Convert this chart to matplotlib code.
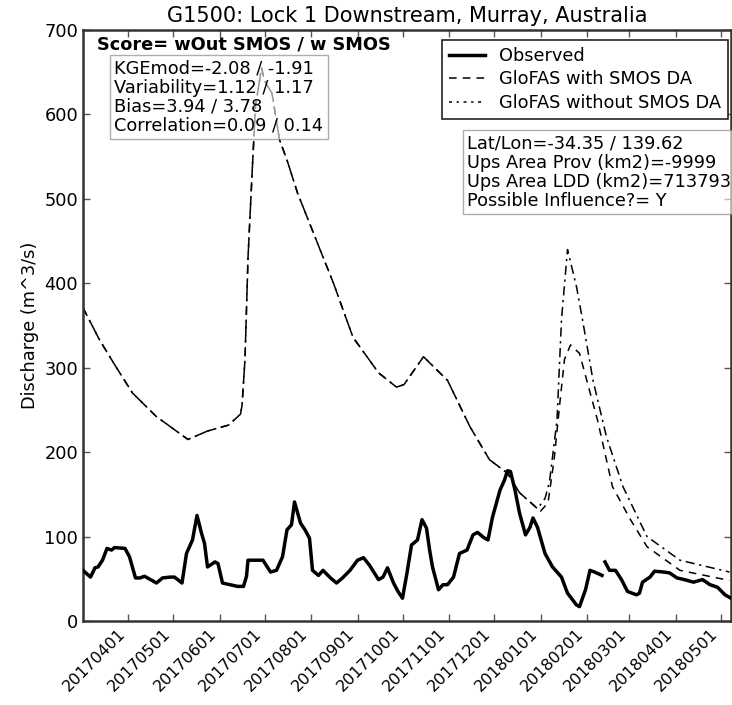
import matplotlib
matplotlib.use("Agg")
import matplotlib.pyplot as plt
import numpy as np
import pandas as pd
from matplotlib.lines import Line2D

plt.rcParams['font.family'] = ['DejaVu Sans']

# ---------------- data ----------------
obs_dates = [
    "20170302", "20170307", "20170310", "20170312", "20170315", "20170318", "20170321", "20170323",
    "20170330", "20170402", "20170406", "20170409", "20170412", "20170416", "20170420", "20170424",
    "20170429", "20170502", "20170507", "20170510", "20170514", "20170517", "20170520", "20170522",
    "20170524", "20170529", "20170531", "20170603", "20170608", "20170613", "20170617", "20170619",
    "20170620", "20170621", "20170628", "20170630", "20170705", "20170709", "20170713", "20170716",
    "20170719", "20170721", "20170725", "20170728", "20170731", "20170802", "20170806", "20170809",
    "20170814", "20170818", "20170822", "20170827", "20170901", "20170905", "20170909", "20170915",
    "20170918", "20170921", "20170925", "20170928", "20171001", "20171004", "20171007", "20171011",
    "20171014", "20171017", "20171019", "20171021", "20171025", "20171028", "20171031", "20171104",
    "20171108", "20171113", "20171117", "20171120", "20171124", "20171127", "20171130", "20171205",
    "20171208", "20171210", "20171212", "20171215", "20171218", "20171222", "20171225", "20171227",
    "20171230", "20180104", "20180109", "20180115", "20180119", "20180125", "20180127", "20180131",
    "20180203", "20180206", "20180211", "20180212", "20180213", "20180216", "20180220", "20180224",
    "20180228", "20180306", "20180308", "20180310", "20180315", "20180318", "20180324", "20180328",
    "20180402", "20180407", "20180413", "20180419", "20180424", "20180429", "20180504", "20180508",
]
obs_values = [
    60, 52, 63, 64, 72, 86, 84, 87,
    86, 76, 51, 51, 53, 49, 45, 51,
    52, 52, 45, 80, 96, 125, 104, 92,
    64, 70, 68, 45, 43, 41, 41, 53,
    72, 72, 72, 72, 58, 60, 76, 108,
    114, 141, 116, 108, 98, 60, 54, 60,
    51, 45, 51, 60, 72, 75, 66, 49,
    52, 63, 45, 35, 27, 57, 90, 96,
    120, 110, 85, 64, 37, 43, 43, 52,
    80, 84, 102, 105, 99, 96, 123, 155,
    167, 178, 177, 155, 128, 102, 111, 122,
    111, 80, 64, 52, 33, 19, 17, 37,
    60, 58, 54, np.nan, 70, 60, 60, 49,
    35, 31, 33, 46, 52, 59, 58, 57,
    51, 49, 46, 49, 43, 40, 31, 27,
]

shared_dates = [
    "20170302", "20170313", "20170324", "20170404", "20170420", "20170511", "20170524", "20170607",
    "20170615", "20170616", "20170618", "20170620", "20170623", "20170625", "20170629", "20170701",
    "20170706", "20170711", "20170716", "20170723", "20170807", "20170816", "20170829", "20170915",
    "20170927", "20171002", "20171015", "20171031", "20171115", "20171128", "20171210", "20171218",
    "20171225",
]
shared_values = [
    371, 333, 301, 270, 242, 215, 225, 232,
    245, 255, 310, 430, 540, 610, 655, 640,
    625, 570, 546, 507, 440, 400, 336, 294,
    277, 280, 313, 285, 230, 191, 175, 152,
    141,
]

with_dates = ["20180101", "20180106", "20180110", "20180114", "20180117", "20180121", "20180124",
              "20180127", "20180208", "20180218", "20180302", "20180313", "20180404", "20180507"]
with_values = [130, 140, 190, 260, 310, 327, 322, 317, 238, 159, 120, 88, 60, 48]

without_dates = ["20171230", "20180104", "20180107", "20180112", "20180115", "20180119", "20180125",
                 "20180129", "20180205", "20180214", "20180225", "20180313", "20180404", "20180507"]
without_values = [133, 145, 165, 238, 357, 440, 396, 357, 285, 218, 159, 100, 72, 58]

tick_labels = ["20170401", "20170501", "20170601", "20170701", "20170801", "20170901", "20171001",
               "20171101", "20171201", "20180101", "20180201", "20180301", "20180401", "20180501"]

score_title = "Score= wOut SMOS / w SMOS"
score_lines = ["KGEmod=-2.08 / -1.91", "Variability=1.12 / 1.17", "Bias=3.94 / 3.78",
               "Correlation=0.09 / 0.14"]
info_lines = ["Lat/Lon=-34.35 / 139.62", "Ups Area Prov (km2)=-9999",
              "Ups Area LDD (km2)=713793", "Possible Influence?= Y"]

# ---------------- plot ----------------
def to_dt(lst):
    return pd.to_datetime(lst, format="%Y%m%d")

FS = 12.8
fig = plt.figure(figsize=(7.32, 7.05), dpi=100)
ax = fig.add_axes([83 / 732, 1 - 621 / 705, (731 - 83) / 732, (621 - 30) / 705])

wx = to_dt(shared_dates + with_dates)
wy = shared_values + with_values
nx = to_dt(shared_dates + without_dates)
ny = shared_values + without_values

ls_without = (0, (6, 3, 1.5, 3))
ls_with = (0, (5, 4))
ax.plot(nx, ny, color='black', lw=1.1, ls=ls_without)
ax.plot(wx, wy, color='black', lw=1.1, ls=ls_with)
ax.plot(to_dt(obs_dates), obs_values, color='black', lw=2.5, zorder=5)

ax.set_xlim(pd.Timestamp("2017-03-02"), pd.Timestamp("2018-05-08"))
ax.set_ylim(0, 700)
ax.set_yticks(range(0, 701, 100))
ax.set_xticks(to_dt(tick_labels))
ax.set_xticklabels(tick_labels, rotation=45, ha='right', fontsize=11.5)
ax.tick_params(axis='y', labelsize=FS)
ax.tick_params(direction='in', top=True, right=True, length=5, width=1, color='#555555')
for s in ax.spines.values():
    s.set_linewidth(1.8)
    s.set_color('#333333')

ax.set_ylabel("Discharge (m^3/s)", fontsize=FS)
ax.set_title("G1500: Lock 1 Downstream, Murray, Australia", fontsize=15, pad=6)

handles = [Line2D([], [], color='black', lw=2.5),
           Line2D([], [], color='black', lw=1.1, ls=ls_with),
           Line2D([], [], color='black', lw=1.1, ls=(0, (2, 3, 1.5, 3)))]
leg = ax.legend(handles, ["Observed", "GloFAS with SMOS DA", "GloFAS without SMOS DA"],
                loc='upper right', bbox_to_anchor=(1 - 3 / 648, 1 - 10 / 591), borderaxespad=0,
                fontsize=FS, fancybox=False, framealpha=1, edgecolor='#222222',
                borderpad=0.4, handlelength=2.0, labelspacing=0.3)
leg.get_frame().set_linewidth(1.2)

ax.text(0.0216, 0.990, score_title, transform=ax.transAxes, fontsize=FS, fontweight='bold',
        va='top', ha='left')
ax.text(0.0485, 0.950, "\n".join(score_lines), transform=ax.transAxes, fontsize=FS,
        va='top', ha='left', linespacing=1.08,
        bbox=dict(boxstyle='square,pad=0.25', facecolor='white', alpha=0.6, edgecolor='#777777'))
ax.text(0.593, 0.823, "\n".join(info_lines), transform=ax.transAxes, fontsize=FS,
        va='top', ha='left', linespacing=1.08,
        bbox=dict(boxstyle='square,pad=0.25', facecolor='white', alpha=0.6, edgecolor='#777777'))

fig.savefig("out.png", dpi=100)
